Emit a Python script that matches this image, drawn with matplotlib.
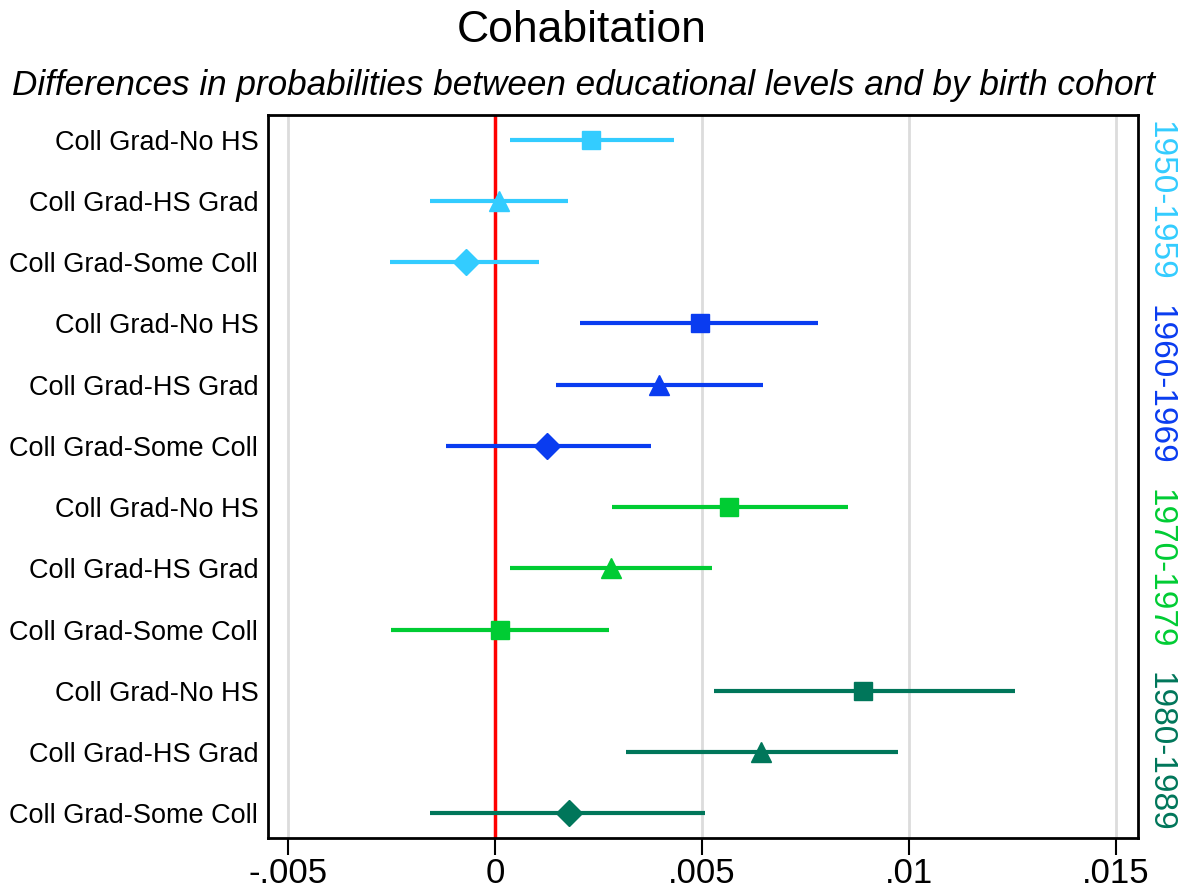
import matplotlib
matplotlib.use("Agg")
import matplotlib.pyplot as plt
import numpy as np

plt.rcParams['font.family'] = ['Liberation Sans', 'DejaVu Sans']

cohorts = ["1950-1959", "1960-1969", "1970-1979", "1980-1989"]
cohort_colors = ["#33ccff", "#0a3cf0", "#00cc33", "#00765a"]
contrasts = ["Coll Grad-No HS", "Coll Grad-HS Grad", "Coll Grad-Some Coll"]

estimates = [
    [0.00232, 0.00010, -0.00070],
    [0.00495, 0.00396, 0.00126],
    [0.00565, 0.00280, 0.00012],
    [0.00889, 0.00643, 0.00178],
]
ci_low = [
    [0.00036, -0.00157, -0.00254],
    [0.00205, 0.00147, -0.00118],
    [0.00283, 0.00036, -0.00251],
    [0.00529, 0.00316, -0.00157],
]
ci_high = [
    [0.00432, 0.00176, 0.00106],
    [0.00780, 0.00647, 0.00377],
    [0.00853, 0.00524, 0.00275],
    [0.01256, 0.00973, 0.00507],
]
markers = [
    ["s", "^", "D"],
    ["s", "^", "D"],
    ["s", "^", "s"],
    ["s", "^", "D"],
]
xticks = [-0.005, 0, 0.005, 0.01, 0.015]
xticklabels = ["-.005", "0", ".005", ".01", ".015"]

fig = plt.figure(figsize=(11.88, 8.96), dpi=100)
ax = fig.add_axes([268/1188, 1-838/896, (1138-268)/1188, (838-115)/896])

n = len(cohorts) * len(contrasts)
ylabels = []
ypos = []
for g, (coh, col) in enumerate(zip(cohorts, cohort_colors)):
    for k, con in enumerate(contrasts):
        y = n - (g * len(contrasts) + k)
        ypos.append(y)
        ylabels.append(con)
        ax.plot([ci_low[g][k], ci_high[g][k]], [y, y], color=col, lw=3, solid_capstyle='butt', zorder=3)
        m = markers[g][k]
        ms = {"s": 13, "^": 14, "D": 13.5}[m]
        ax.plot(estimates[g][k], y, marker=m, color=col, ms=ms, mec=col, zorder=4, linestyle='none')
    ymid = n - (g * len(contrasts) + 1)
    ax.text(1.008, (ymid - 0.6) / (n + 0.4 - 0.6), coh, transform=ax.transAxes,
            rotation=-90, color=col, fontsize=24, ha='left', va='center')

ax.axvline(0, color="#ff0000", lw=2.5, zorder=2)
for xt in xticks:
    ax.axvline(xt, color="#dcdcdc", lw=2, zorder=1)

ax.set_xlim(-0.00548, 0.01553)
ax.set_ylim(0.6, n + 0.4)
ax.set_yticks(ypos)
ax.set_yticklabels(ylabels, fontsize=19.5)
ax.tick_params(axis='y', length=0, pad=7)
ax.set_xticks(xticks)
ax.set_xticklabels(xticklabels, fontsize=25)
ax.tick_params(axis='x', length=12, width=1.5, direction='out', pad=2)
for s in ax.spines.values():
    s.set_linewidth(2)
    s.set_color("black")

fig.text(582/1188, 1-31/896, "Cohabitation", fontsize=32, ha='center', va='center')
fig.text(583/1188, 1-85/896, "Differences in probabilities between educational levels and by birth cohort",
         fontsize=25.3, style='italic', ha='center', va='center')

fig.savefig("out.png", dpi=100, facecolor="white")
